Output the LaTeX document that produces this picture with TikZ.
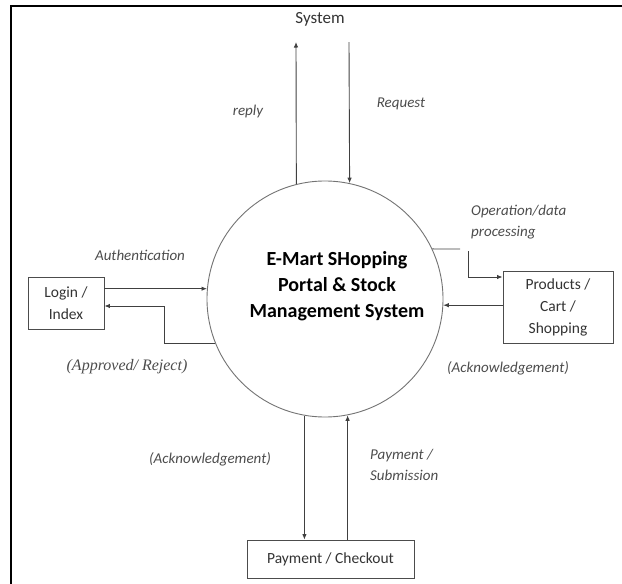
\documentclass[tikz,border=0pt]{standalone}
\usepackage{fontspec}
\setmainfont{Carlito}
\newfontfamily\serifit{Liberation Serif}
\usetikzlibrary{arrows.meta}
\tikzset{
  frame/.style={line width=1.4pt, black},
  bubble/.style={circle, draw=black!55, line width=0.9pt, minimum size=236pt, inner sep=0pt},
  boxnode/.style={draw=black!70, line width=0.9pt, align=center, inner sep=0pt, text=black!80,
    font=\fontsize{15.5}{22}\selectfont},
  flow/.style={draw=black!75, line width=0.9pt},
  arr/.style={flow, -{Latex[length=5.5pt,width=4.5pt]}},
  lbl/.style={font=\itshape\fontsize{15}{21}\selectfont, text=black!70, inner sep=0pt},
}
\begin{document}
\begin{tikzpicture}[x=1pt,y=-1pt]
\useasboundingbox (0,0) rectangle (622,584);
\draw[frame] (11,584) -- (11,6) -- (622,6);

% central process
\node[bubble] (c) at (325,299) {};
\node[align=center, font=\bfseries\fontsize{20}{26}\selectfont, inner sep=0pt] (ctext) at (337,286)
  {E-Mart SHopping\\Portal \& Stock\\Management System};

% external entities
\node[font=\fontsize{17}{20}\selectfont, text=black!80, inner sep=0pt] (sys) at (320,19) {System};
\node[boxnode, minimum width=76pt, minimum height=52pt] (login) at (66,303) {Login /\\Index};
\node[boxnode, minimum width=110pt, minimum height=72pt] (prod) at (558,307) {Products /\\Cart /\\Shopping};
\node[boxnode, minimum width=167pt, minimum height=38pt] (pay) at (330.5,559) {Payment / Checkout};

% helper coordinates
\coordinate (sysL) at (296,42);
\coordinate (sysR) at (349,42);
\coordinate (apbend) at (164,306);
\coordinate (opA) at (460,249);
\coordinate (opB) at (468,251);
\coordinate (opC) at (0,277);

% system flows
\draw[arr] (c.104.2) -- (sysL);
\draw[arr] (sysR) -- (c.78.26);

% login flows
\draw[arr] (login.east |- c.175.63) -- (c.175.63);
\draw[arr] (c.202.42) -| (apbend) -- (login.east |- apbend);

% products flows
\draw[flow] (c.25.07) -- (opA);
\draw[arr] (opB) |- (prod.west |- opC);
\draw[arr] (prod.west |- c.-3.4) -- (c.-3.4);

% payment flows
\draw[arr] (c.260.73) -- (pay.north -| c.260.73);
\draw[arr] (pay.north -| c.281.24) -- (c.281.24);

% labels
\node[lbl] (lreply) at (248,111) {reply};
\node[lbl] (lreq) at (401,104) {Request};
\node[lbl] (lauth) at (140,255) {Authentication};
\node[lbl, font=\serifit\itshape\fontsize{16}{18}\selectfont] (lappr) at (127,367) {(Approved/ Reject)};
\node[lbl, align=left, anchor=west] (lop) at (471,222) {Operation/data\\processing};
\node[lbl] (lack1) at (508,368) {(Acknowledgement)};
\node[lbl] (lack2) at (210,459) {(Acknowledgement)};
\node[lbl, align=left, anchor=west] (lpaysub) at (370,465) {Payment /\\Submission};
\end{tikzpicture}
\end{document}
